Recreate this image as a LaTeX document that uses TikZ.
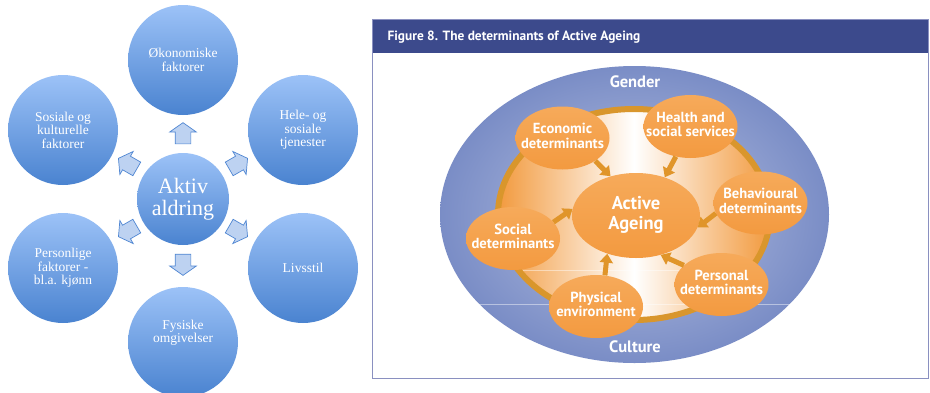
\documentclass[tikz,border=0pt]{standalone}
\usepackage{fontspec}
\setmainfont{Liberation Serif}
\newfontfamily\ptsans{PT Sans}
\usetikzlibrary{shapes.geometric,shapes.arrows,arrows.meta}
\definecolor{bluetop}{HTML}{9CC2F7}
\definecolor{bluebot}{HTML}{4A83D0}
\definecolor{arrfill}{HTML}{BDD2F1}
\definecolor{arrdraw}{HTML}{4F86D2}
\definecolor{navy}{HTML}{3C4A8C}
\definecolor{framec}{HTML}{8A90C0}
\definecolor{ellout}{HTML}{7A8DC6}
\definecolor{ellin}{HTML}{B8C2E2}
\definecolor{ringc}{HTML}{D9962C}
\definecolor{orA}{HTML}{F6AA5A}
\definecolor{orB}{HTML}{F39A40}
\definecolor{innerorange}{HTML}{F29A3E}
\definecolor{oarrowc}{HTML}{E0952A}
\newcommand{\ctext}[1]{\makebox[0pt]{\begin{tabular}{@{}c@{}}#1\end{tabular}}}
\tikzset{
  lcirc/.style={circle, minimum size=110pt, inner sep=0pt, top color=bluetop, bottom color=bluebot,
    text=white, align=center, font=\fontsize{13.5}{13.5}\selectfont},
  ccirc/.style={lcirc, minimum size=92pt, font=\fontsize{22}{22}\selectfont},
  barrow/.style={single arrow, draw=arrdraw, fill=arrfill, line width=0.7pt, inner sep=7.5pt,
    minimum height=19pt, single arrow head extend=5.5pt, single arrow tip angle=110},
  onode/.style={ellipse, minimum width=94pt, minimum height=63pt, inner sep=0pt,
    top color=orA, bottom color=orB, text=white, font=\ptsans\bfseries\fontsize{14.6}{14.5}\selectfont},
  oarrow/.style={draw=oarrowc, line width=5pt, -{Triangle[width=13pt,length=9pt]}},
  ftext/.style={text=white, font=\ptsans\bfseries\fontsize{16.5}{17}\selectfont}
}
\begin{document}
\begin{tikzpicture}[x=1pt,y=-1pt]
\useasboundingbox (0,0) rectangle (930,392);
% ---------- left diagram ----------
\begin{scope}
\clip (0,0) rectangle (930,392);
\node[ccirc] (aa) at (183,199) {Aktiv\\aldring};
\node[lcirc] (ok) at (183,60) {Økonomiske\\faktorer};
\node[lcirc] (he) at (303,130) {Hele- og\\sosiale\\tjenester};
\node[lcirc] (li) at (303,268) {Livsstil};
\node[lcirc] (fy) at (183,342) {Fysiske\\omgivelser\\[8pt]};
\node[lcirc] (pe) at (63,268) {Personlige\\faktorer -\\bl.a. kjønn};
\node[lcirc] (so) at (63,130) {Sosiale og\\kulturelle\\faktorer};
\end{scope}
\node[barrow, rotate=90] (a1) at (183,136) {};
\node[barrow, rotate=30] (a2) at (236,165) {};
\node[barrow, rotate=-30] (a3) at (236,230) {};
\node[barrow, rotate=-90] (a4) at (183,262) {};
\node[barrow, rotate=-150] (a5) at (130,230) {};
\node[barrow, rotate=150] (a6) at (130,165) {};
% ---------- right panel ----------
\fill[white] (372,19) rectangle (928,378);
\fill[navy] (372,19) rectangle (928,53);
\draw[framec, line width=1pt] (372,19) rectangle (928,378);
\node[anchor=west, text=white, font=\ptsans\bfseries\fontsize{13.4}{14}\selectfont] (title) at (384,37)
  {Figure 8. The determinants of Active Ageing};
\node[ellipse, minimum width=389pt, minimum height=297pt, inner sep=0pt,
  inner color=ellin, outer color=ellout] (outer) at (634.5,214.5) {};
\node[ellipse, minimum width=272pt, minimum height=211pt, inner sep=0pt, draw=ringc, line width=6pt,
  left color=innerorange, right color=innerorange, middle color=white] (ring) at (634,214.5) {};
\draw[white, opacity=0.45, line width=0.6pt] (523,270) -- (703,270);
\draw[white, opacity=0.45, line width=0.6pt] (470,304) -- (792,304);
\node[ftext] (gender) at (635,82) {Gender};
\node[ftext] (culture) at (635,347) {Culture};
\node[onode, minimum width=128pt, minimum height=85pt, font=\ptsans\bfseries\fontsize{18.5}{20}\selectfont]
  (center) at (636,215.5) {\ctext{Active\\Ageing}};
\node[onode] (econ) at (562.5,138) {\ctext{Economic\\determinants}};
\node[onode] (health) at (690.5,126.5) {\ctext{Health and\\social services}};
\node[onode] (behav) at (760.5,203) {\ctext{Behavioural\\determinants}};
\node[onode] (social) at (513,238.5) {\ctext{Social\\determinants}};
\node[onode] (phys) at (596,306.5) {\ctext{Physical\\environment}};
\node[onode] (pers) at (721.5,284.5) {\ctext{Personal\\determinants}};
\draw[oarrow] (econ.-35) -- (center.123);
\draw[oarrow] (health.-116) -- (center.53);
\draw[oarrow] (behav.-167) -- (center.-11);
\draw[oarrow] (social.22) -- (center.174);
\draw[oarrow] (phys.74) -- (center.-127);
\draw[oarrow] (pers.153) -- (center.-58);
\end{tikzpicture}
\end{document}
